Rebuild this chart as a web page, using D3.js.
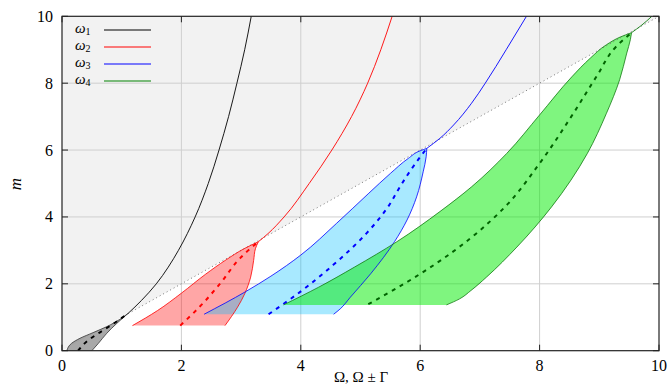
<!DOCTYPE html>
<html><head><meta charset="utf-8">
<script src="https://cdn.jsdelivr.net/npm/d3@7"></script>
<style>body{margin:0;background:#fff} svg{display:block}</style>
</head><body><svg id="c" width="668" height="385"></svg>
<script>
// ---------- data (Ω, m) ----------
const xTicks = [0, 2, 4, 6, 8, 10];
const yTicks = [0, 2, 4, 6, 8, 10];
const gridVals = [2, 4, 6, 8];
const legendSubs = ["1", "2", "3", "4"];

// ω1
const w1Curve = [[1.11,1.12],[1.33,1.5],[1.58,2.0],[1.78,2.5],[1.95,3.0],[2.23,4.0],[2.45,5.0],[2.63,6.0],[2.79,7.0],[2.93,8.0],[3.06,9.0],[3.17,10]];
const w1Left  = [[0.08,0],[0.16,0.22],[0.3,0.37],[0.52,0.54],[0.75,0.72],[0.97,0.94],[1.11,1.12]];
const w1Right = [[0.5,0],[0.61,0.22],[0.75,0.52],[0.92,0.82],[1.11,1.12]];
const w1Mid   = [[0.27,0],[0.41,0.27],[0.61,0.52],[0.83,0.77],[1.11,1.12]];
// ω2
const w2Curve = [[3.29,3.26],[3.45,3.5],[3.72,4.0],[4.14,5.0],[4.52,6.0],[4.85,7.0],[5.12,8.0],[5.34,9.0],[5.53,10]];
const w2Left  = [[1.18,0.75],[1.6,1.2],[2.0,1.72],[2.4,2.28],[2.75,2.72],[3.05,3.05],[3.29,3.26]];
const w2Right = [[2.73,0.75],[2.94,1.3],[3.06,1.7],[3.16,2.2],[3.21,2.7],[3.24,3.05],[3.29,3.26]];
const w2Mid   = [[1.98,0.75],[2.31,1.32],[2.65,2.01],[2.98,2.76],[3.15,3.05],[3.29,3.26]];
// ω3
const w3Curve = [[6.11,6.05],[6.33,6.35],[6.56,6.75],[6.86,7.4],[7.09,8.0],[7.44,9.0],[7.78,10]];
const w3Left  = [[2.38,1.09],[3.07,1.76],[3.5,2.23],[4.0,2.86],[4.6,3.81],[5.14,4.71],[5.5,5.3],[5.8,5.75],[6.0,5.98],[6.11,6.05]];
const w3Right = [[4.55,1.09],[4.66,1.25],[4.83,1.6],[5.17,2.3],[5.57,3.26],[5.78,3.91],[5.94,4.6],[6.05,5.35],[6.1,5.8],[6.11,6.05]];
const w3Mid   = [[3.46,1.09],[3.99,1.76],[4.54,2.56],[5.1,3.51],[5.46,4.3],[5.66,4.9],[5.9,5.55],[6.11,6.05]];
// ω4
const w4Curve = [[9.54,9.51],[9.7,9.72],[9.88,10]];
const w4Left  = [[3.71,1.37],[4.3,1.9],[4.9,2.5],[5.61,3.26],[6.33,4.16],[6.86,4.9],[7.45,5.9],[8.0,7.05],[8.54,8.19],[8.85,8.75],[9.12,9.15],[9.35,9.38],[9.54,9.51]];
const w4Right = [[6.44,1.37],[6.66,1.55],[6.85,1.8],[7.11,2.2],[7.62,3.1],[8.2,4.3],[8.8,5.9],[9.12,7.1],[9.34,8.1],[9.46,8.9],[9.52,9.3],[9.54,9.51]];
const w4Mid   = [[5.13,1.39],[5.73,2.0],[6.26,2.6],[6.84,3.36],[7.42,4.3],[8.0,5.6],[8.53,7.0],[8.95,8.19],[9.28,9.09],[9.54,9.51]];
// diagonal m = Ω
const diagonal = [[1.11,1.11],[10,10]];
const greyRegion = [[0,0],[10,10],[0,10]];

// ---------- drawing ----------
const svg = d3.select("#c");
const x = d3.scaleLinear().domain([0,10]).range([62,659]);
const y = d3.scaleLinear().domain([0,10]).range([350.7,16.3]);
const line = d3.line().x(d=>x(d[0])).y(d=>y(d[1])).curve(d3.curveMonotoneY);
const lin  = d3.line().x(d=>x(d[0])).y(d=>y(d[1]));
const band = (L,R) => line(L) + line(R.slice().reverse()).replace(/^M/,"L") + "Z";

svg.append("defs").append("clipPath").attr("id","clip").append("rect")
  .attr("x",x(0)).attr("y",y(10)).attr("width",x(10)-x(0)).attr("height",y(0)-y(10));
const g = svg.append("g").attr("clip-path","url(#clip)");

g.append("path").attr("d", lin(greyRegion)+"Z").attr("fill","#f2f2f2");

// grid
gridVals.forEach(v=>{
  g.append("line").attr("x1",x(v)).attr("x2",x(v)).attr("y1",y(0)).attr("y2",y(10)).attr("stroke","#cfcfcf").attr("stroke-width",1);
  g.append("line").attr("y1",y(v)).attr("y2",y(v)).attr("x1",x(0)).attr("x2",x(10)).attr("stroke","#cfcfcf").attr("stroke-width",1);
});

const specs = [
  {L:w1Left,R:w1Right,M:w1Mid,C:w1Curve,fill:"rgb(110,110,110)",op:0.6,edge:"#333",line:"#000",dash:"#000"},
  {L:w2Left,R:w2Right,M:w2Mid,C:w2Curve,fill:"rgb(255,0,0)",op:0.35,edge:"#ff0000",line:"#ff0000",dash:"#ff0000"},
  {L:w3Left,R:w3Right,M:w3Mid,C:w3Curve,fill:"rgb(0,191,255)",op:0.34,edge:"#0000ff",line:"#0000ff",dash:"#0000ff"},
  {L:w4Left,R:w4Right,M:w4Mid,C:w4Curve,fill:"rgb(0,235,0)",op:0.5,edge:"#117a11",line:"#117a11",dash:"#006400"}
];
specs.forEach(s=>{
  g.append("path").attr("d",band(s.L,s.R)).attr("fill",s.fill).attr("fill-opacity",s.op).attr("stroke","none");
});
// diagonal dotted
g.append("path").attr("d",lin(diagonal)).attr("stroke","#777").attr("stroke-width",1).attr("stroke-dasharray","1,3").attr("fill","none");
specs.forEach(s=>{
  [s.L,s.R].forEach(e=>g.append("path").attr("d",line(e)).attr("fill","none").attr("stroke",s.edge).attr("stroke-width",0.8));
  g.append("path").attr("d",line(s.M)).attr("fill","none").attr("stroke",s.dash).attr("stroke-width",2).attr("stroke-dasharray","4,5");
  g.append("path").attr("d",line(s.C)).attr("fill","none").attr("stroke",s.line).attr("stroke-width",0.9);
});

// frame & ticks
const frame = svg.append("g");
frame.append("rect").attr("x",x(0)).attr("y",y(10)).attr("width",x(10)-x(0)).attr("height",y(0)-y(10))
  .attr("fill","none").attr("stroke","#222").attr("stroke-width",1.2);
xTicks.forEach(v=>{
  frame.append("line").attr("x1",x(v)).attr("x2",x(v)).attr("y1",y(0)).attr("y2",y(0)-6).attr("stroke","#222");
  frame.append("line").attr("x1",x(v)).attr("x2",x(v)).attr("y1",y(10)).attr("y2",y(10)+6).attr("stroke","#222");
  frame.append("text").attr("x",x(v)).attr("y",371).attr("text-anchor","middle")
    .attr("font-family","Liberation Serif, serif").attr("font-size",16).text(v);
});
yTicks.forEach(v=>{
  frame.append("line").attr("y1",y(v)).attr("y2",y(v)).attr("x1",x(0)).attr("x2",x(0)+6).attr("stroke","#222");
  frame.append("line").attr("y1",y(v)).attr("y2",y(v)).attr("x1",x(10)).attr("x2",x(10)-6).attr("stroke","#222");
  frame.append("text").attr("x",53).attr("y",y(v)+5.5).attr("text-anchor","end")
    .attr("font-family","Liberation Serif, serif").attr("font-size",16).text(v);
});
// axis labels
frame.append("text").attr("x",361).attr("y",382).attr("text-anchor","middle")
  .attr("font-family","Liberation Serif, serif").attr("font-size",15).text("Ω, Ω ± Γ");
frame.append("text").attr("transform","translate(21,184) rotate(-90)").attr("text-anchor","middle")
  .attr("font-family","Liberation Serif, serif").attr("font-style","italic").attr("font-size",17).text("m");

// legend
const legColors = ["#000","#ff0000","#0000ff","#008000"];
legendSubs.forEach((s,i)=>{
  const yy = 30 + i*17;
  const t = frame.append("text").attr("x",75).attr("y",yy+3).attr("font-family","Liberation Serif, serif").attr("font-size",15);
  t.append("tspan").attr("font-style","italic").text("ω");
  t.append("tspan").attr("font-size",10).attr("dy",2).text(s);
  frame.append("line").attr("x1",104).attr("x2",151).attr("y1",yy).attr("y2",yy).attr("stroke",legColors[i]).attr("stroke-width",1.2);
});
</script></body></html>
